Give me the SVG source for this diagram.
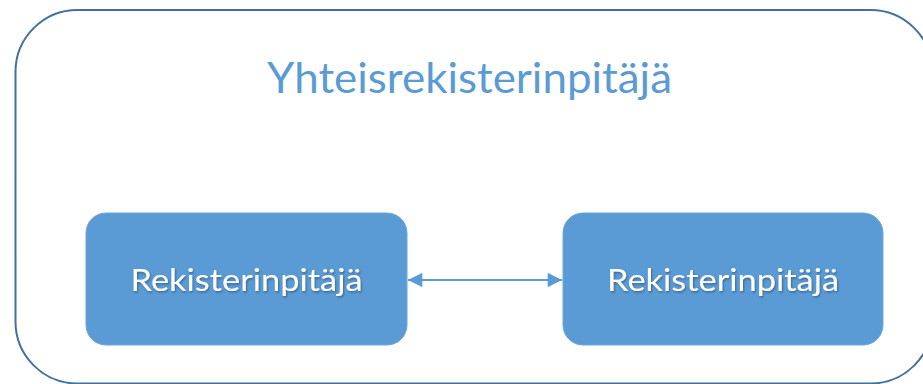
<svg xmlns="http://www.w3.org/2000/svg" width="923" height="384" viewBox="0 0 923 384">
  <style>
    .outer { fill: #ffffff; stroke: #41719C; stroke-width: 2; }
    .box { fill: #5B9BD5; stroke: #6CA6DA; stroke-width: 1; }
    .title { font-family: Lato, "Open Sans", "Liberation Sans", sans-serif; font-size: 42px; fill: #5B9BD5; text-anchor: middle; }
    .label { font-family: Lato, "Open Sans", "Liberation Sans", sans-serif; font-size: 31px; fill: #ffffff; text-anchor: middle; filter: url(#shadow); }
    .conn { stroke: #5B9BD5; stroke-width: 2.2; fill: none; }
  </style>
  <defs>
    <filter id="shadow" x="-10%" y="-30%" width="120%" height="160%">
      <feDropShadow dx="1" dy="1.5" stdDeviation="1.2" flood-color="#000000" flood-opacity="0.35"/>
    </filter>
    <marker id="arrow" viewBox="0 0 10 10" refX="10" refY="5" markerWidth="7" markerHeight="6.5" orient="auto-start-reverse" markerUnits="strokeWidth">
      <path d="M0,0 L10,5 L0,10 Z" fill="#5B9BD5"/>
    </marker>
  </defs>
  <rect x="0" y="0" width="923" height="384" fill="#ffffff"/>
  <g id="yhteisrekisterinpitaja">
    <rect class="outer" x="15.5" y="10" width="917" height="373.5" rx="62" ry="62"/>
    <text class="title" x="469.5" y="93" textLength="405" lengthAdjust="spacingAndGlyphs">Yhteisrekisterinpitäjä</text>
  </g>
  <g id="rekisterinpitaja-1">
    <rect class="box" x="86" y="213" width="321" height="132" rx="20" ry="20"/>
    <text class="label" x="246.5" y="291" textLength="232" lengthAdjust="spacingAndGlyphs">Rekisterinpitäjä</text>
  </g>
  <g id="rekisterinpitaja-2">
    <rect class="box" x="563" y="213" width="320" height="132" rx="20" ry="20"/>
    <text class="label" x="723" y="291" textLength="232" lengthAdjust="spacingAndGlyphs">Rekisterinpitäjä</text>
  </g>
  <g id="connectors">
    <line class="conn" x1="408" y1="280" x2="562" y2="280" marker-start="url(#arrow)" marker-end="url(#arrow)"/>
  </g>
</svg>
